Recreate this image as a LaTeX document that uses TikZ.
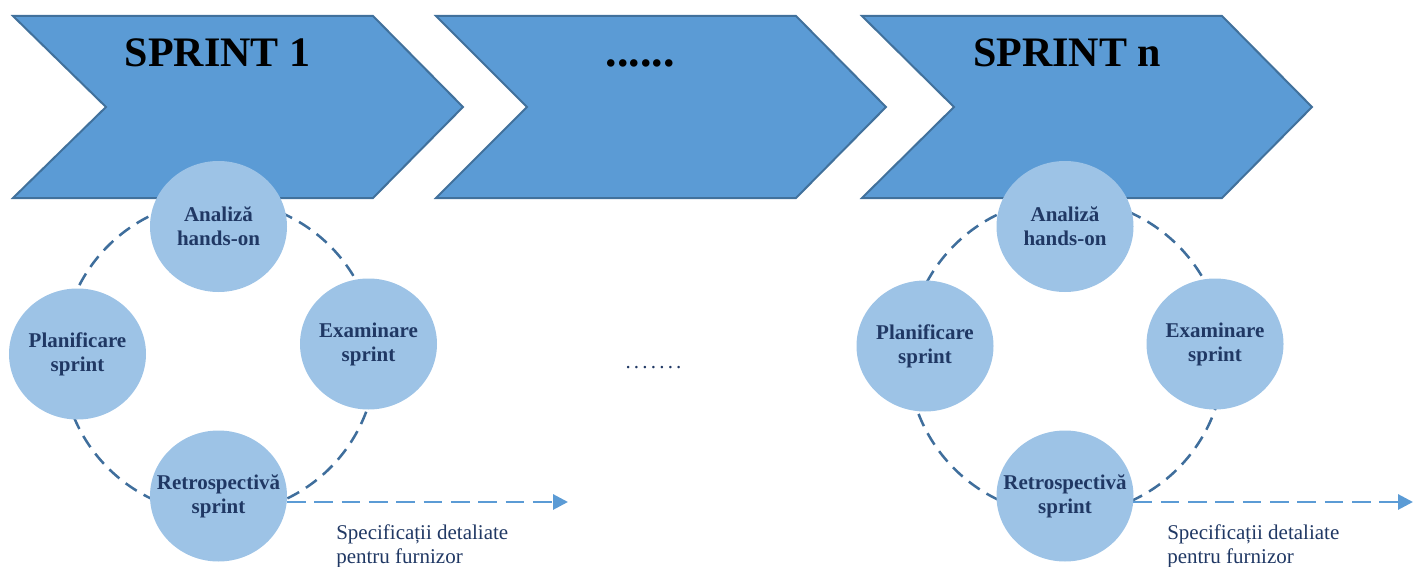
\documentclass[tikz,border=0pt]{standalone}
\usepackage{fontspec}
\setmainfont{Liberation Serif}
\usetikzlibrary{shapes.geometric,arrows.meta}
\definecolor{chevfill}{HTML}{5B9BD5}
\definecolor{chevedge}{HTML}{41719C}
\definecolor{stepfill}{HTML}{9DC3E6}
\definecolor{navy}{HTML}{203864}
\definecolor{ringline}{HTML}{3F6E9C}
\definecolor{flowblue}{HTML}{5B9BD5}

\begin{document}
\begin{tikzpicture}[x=0.75pt,y=-0.75pt,
  chevron/.style={fill=chevfill,draw=chevedge,line width=1.5pt,line join=miter},
  title/.style={anchor=base,inner sep=0,font=\bfseries\fontsize{31.5pt}{36pt}\selectfont},
  phase/.style={ellipse,fill=stepfill,minimum width=102.75pt,minimum height=98.25pt,
    inner xsep=-20pt,inner ysep=0pt,align=center,text=navy,
    font=\bfseries\fontsize{15.75pt}{18pt}\selectfont},
  ring/.style={draw=ringline,line width=1.9pt,dash pattern=on 10pt off 6pt},
  flow/.style={draw=flowblue,line width=2.2pt,dash pattern=on 14pt off 6.5pt,
    -{Triangle[length=11.25pt,width=11.25pt]}},
  note/.style={anchor=base west,align=left,inner sep=0,text=navy,
    font=\fontsize{15.75pt}{18pt}\selectfont}
]
\useasboundingbox (0,0) rectangle (1414,567);
\clip (0,0) rectangle (1414,567);

% chevrons of the sprint timeline
\path[chevron] (13,16) -- (373,16) -- (463,107) -- (373,198) -- (13,198) -- (106,107) -- cycle;
\path[chevron] (436,16) -- (796,16) -- (886,107) -- (796,198) -- (436,198) -- (527,107) -- cycle;
\path[chevron] (862,16) -- (1222,16) -- (1312,107) -- (1222,198) -- (862,198) -- (954,107) -- cycle;

\node[title] (titleA) at (217.5,67) {SPRINT 1};
\node[title,font=\bfseries\fontsize{34.5pt}{36pt}\selectfont] (titleB) at (640,67) {......};
\node[title] (titleC) at (1067,67) {SPRINT n};

% sprint cycle rings
\draw[ring] (219,357) circle[radius=117.75pt];
\draw[ring] (1066,357) circle[radius=118.5pt];

% phases of the first sprint
\node[phase] (analizaA) at (218.5,226.5) {Analiză\\hands-on};
\node[phase] (planA) at (77.5,354) {Planificare\\sprint};
\node[phase] (examA) at (368.5,344) {Examinare\\sprint};
\node[phase] (retroA) at (218.5,496) {Retrospectivă\\sprint};

% phases of the last sprint
\node[phase] (analizaC) at (1065,226.5) {Analiză\\hands-on};
\node[phase] (planC) at (925,346) {Planificare\\sprint};
\node[phase] (examC) at (1215,344) {Examinare\\sprint};
\node[phase] (retroC) at (1065,496) {Retrospectivă\\sprint};

% deliverables leaving each sprint
\coordinate (outA) at (568,502);
\coordinate (outC) at (1413,502);
\draw[flow] (retroA.-5) -- (retroA.-5 -| outA);
\draw[flow] (retroC.-5) -- (retroC.-5 -| outC);

\node[note] (specA) at (336,563) {Specificații detaliate\\pentru furnizor};
\node[note] (specC) at (1167,563) {Specificații detaliate\\pentru furnizor};

\node[anchor=base,inner sep=0,text=navy,font=\fontsize{15.75pt}{18pt}\selectfont] (middots)
  at (653.5,368) {.\hspace{2.4pt}.\hspace{2.4pt}.\hspace{2.4pt}.\hspace{2.4pt}.\hspace{2.4pt}.\hspace{2.4pt}.};
\end{tikzpicture}
\end{document}
